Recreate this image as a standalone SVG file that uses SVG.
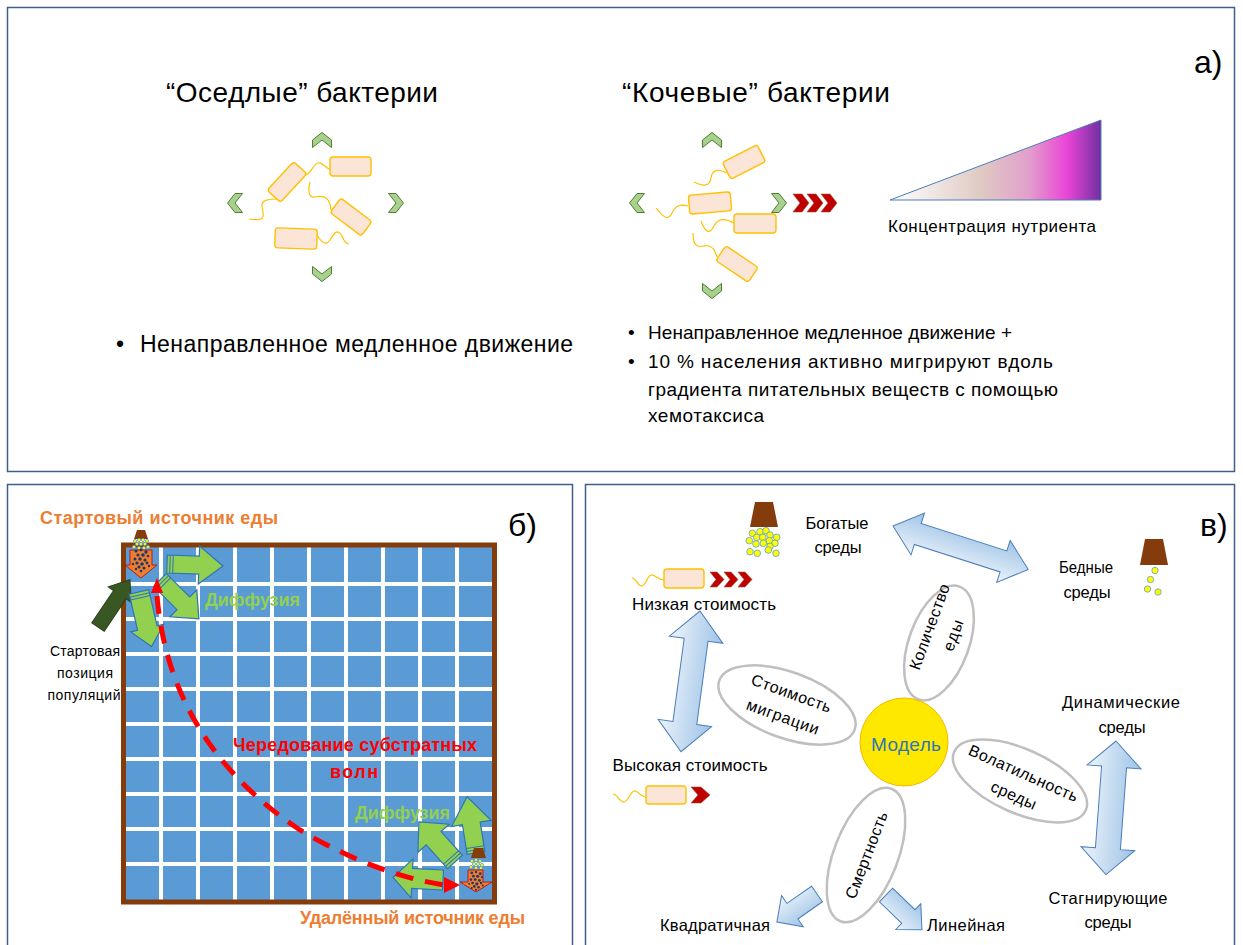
<svg xmlns="http://www.w3.org/2000/svg" xmlns:xlink="http://www.w3.org/1999/xlink" width="1243" height="945" viewBox="0 0 1243 945">
  <defs>
    <style>
      .panel { fill: #ffffff; stroke: #3e5f8a; stroke-width: 1.5; }
      .t { font-family: "Liberation Sans", Arial, sans-serif; fill: #000000; }
      .tb { font-family: "Liberation Sans", Arial, sans-serif; font-weight: bold; }
      .orange { fill: #ed7d31; }
      .diff { fill: #92d050; }
      .red { fill: #ff0000; }
      .bact { fill: #fbe5d6; stroke: #ffc000; stroke-width: 1.4; }
      .flag { fill: none; stroke: #ffc000; stroke-width: 1.2; }
      .gchev { fill: #a9d18e; stroke: #507e32; stroke-width: 1; }
      .rchev { fill: #c00000; stroke: #a05030; stroke-width: 0.6; }
      .garrow { fill: #92d050; stroke: #2e75b6; stroke-width: 1.2; stroke-linejoin: miter; }
      .stripe { stroke: #2e75b6; stroke-width: 1; fill: none; }
      .barrow { fill: url(#lightBlue); stroke: #4a7ebb; stroke-width: 1; }
      .petal { fill: #ffffff; stroke: #bfbfbf; stroke-width: 2.5; }
      .food { fill: #843c0c; }
      .dot { fill: #ffff00; stroke: #5b9bd5; stroke-width: 0.8; }
      .speck { fill: #203864; }
    </style>
    <linearGradient id="nutrient" x1="890" y1="0" x2="1101" y2="0" gradientUnits="userSpaceOnUse">
      <stop offset="0" stop-color="#ffffff"/>
      <stop offset="0.43" stop-color="#dfcac3"/>
      <stop offset="0.66" stop-color="#e29fcb"/>
      <stop offset="0.84" stop-color="#ea44d6"/>
      <stop offset="1" stop-color="#7030a0"/>
    </linearGradient>
    <linearGradient id="lightBlue" x1="0" y1="0" x2="0" y2="1">
      <stop offset="0" stop-color="#9dc3e6"/>
      <stop offset="1" stop-color="#eef4fb"/>
    </linearGradient>
    <path id="chev" d="M-7.5,-9.5 L0,-9.5 L7.5,0 L0,9.5 L-7.5,9.5 L0,0 Z"/>
    <!-- cluster of bacteria drawn over a food-source arrow -->
    <g id="cluster" class="speck">
      <circle cx="-5" cy="-12" r="1.6"/><circle cx="0" cy="-13" r="1.4"/><circle cx="5" cy="-11" r="1.7"/>
      <circle cx="-3" cy="-8" r="1.6"/><circle cx="2" cy="-8" r="1.8"/><circle cx="7" cy="-7" r="1.3"/>
      <circle cx="-6" cy="-4" r="1.5"/><circle cx="-1" cy="-4" r="1.7"/><circle cx="4" cy="-3" r="1.6"/>
      <circle cx="-4" cy="0" r="1.6"/><circle cx="1" cy="1" r="1.8"/><circle cx="6" cy="0" r="1.4"/>
      <circle cx="-8" cy="1" r="1.2"/><circle cx="-2" cy="4" r="1.6"/><circle cx="3" cy="5" r="1.5"/>
      <circle cx="8" cy="3" r="1.2"/><circle cx="0" cy="8" r="1.3"/><circle cx="-5" cy="6" r="1.2"/>
    </g>
  </defs>

  <rect width="1243" height="945" fill="#ffffff"/>

  <!-- panel frames -->
  <rect class="panel" x="7.5" y="7.5" width="1227" height="464"/>
  <rect class="panel" x="7.5" y="484.5" width="565" height="475"/>
  <rect class="panel" x="585.5" y="484.5" width="649" height="475"/>

  <!-- ===== panel a ===== -->
  <g id="panel-a-labels">
    <text class="t" x="302" y="102" font-size="28" text-anchor="middle" textLength="272">“Оседлые” бактерии</text>
    <text class="t" x="756" y="102" font-size="28" text-anchor="middle" textLength="268">“Кочевые” бактерии</text>
    <text class="t" x="1194" y="73" font-size="32">а)</text>
  </g>

  <g id="sedentary-bacteria">
    <use href="#chev" class="gchev" transform="translate(322,140) rotate(-90)"/>
    <use href="#chev" class="gchev" transform="translate(235,203) rotate(180)"/>
    <use href="#chev" class="gchev" transform="translate(396,203)"/>
    <use href="#chev" class="gchev" transform="translate(322,274) rotate(90)"/>
    <path class="flag" d="M278,199 C268,199 261,200 262,207 C263,214 268,222 249,219"/>
    <path class="flag" d="M306,175 C312,172 314,163 318,163 C323,162 325,168 331,170"/>
    <path class="flag" d="M310,182 C308,190 308,198 315,197 C325,195 330,198 331,210"/>
    <path class="flag" d="M317,235 C322,243 326,246 330,240 C334,233 338,228 342,236 C344,241 346,244 349,244"/>
    <rect class="bact" x="-19.5" y="-9" width="39" height="18" rx="3" transform="translate(287,182) rotate(-47)"/>
    <rect class="bact" x="330" y="157" width="41" height="19" rx="3"/>
    <rect class="bact" x="-19.5" y="-9" width="39" height="18" rx="3" transform="translate(351,217) rotate(37)"/>
    <rect class="bact" x="-21" y="-10" width="42" height="20" rx="3" transform="translate(296,238.5) rotate(2)"/>
  </g>

  <g id="nomadic-bacteria">
    <use href="#chev" class="gchev" transform="translate(712,140) rotate(-90)"/>
    <use href="#chev" class="gchev" transform="translate(637,203) rotate(180)"/>
    <use href="#chev" class="gchev" transform="translate(779,203)"/>
    <use href="#chev" class="gchev" transform="translate(712,291) rotate(90)"/>
    <path class="rchev" d="M793,194 L802,194 L809,203 L802,212 L793,212 L800,203 Z"/>
    <path class="rchev" d="M807,194 L816,194 L823,203 L816,212 L807,212 L814,203 Z"/>
    <path class="rchev" d="M821,194 L830,194 L837,203 L830,212 L821,212 L828,203 Z"/>
    <path class="flag" d="M727,173 C718,168 712,170 711,178 C710,186 704,187 694,182"/>
    <path class="flag" d="M688,206 C680,204 676,205 672,213 C668,221 664,218 656,208"/>
    <path class="flag" d="M734,223 C725,218 718,218 714,226 C710,234 706,234 701,221"/>
    <path class="flag" d="M717,257 C715,250 712,244 704,246 C696,248 693,244 693,233"/>
    <rect class="bact" x="-19.5" y="-9.5" width="39" height="19" rx="3" transform="translate(744,162) rotate(-27)"/>
    <rect class="bact" x="-21" y="-9.5" width="42" height="19" rx="3" transform="translate(710,203) rotate(-5)"/>
    <rect class="bact" x="734" y="214" width="42" height="19" rx="3"/>
    <rect class="bact" x="-19.5" y="-9" width="39" height="18" rx="3" transform="translate(737,264) rotate(34)"/>
  </g>

  <g id="nutrient-gradient">
    <path d="M890,200 L1101,120 L1101,200 Z" fill="url(#nutrient)" stroke="#4a7ebb" stroke-width="1"/>
    <text class="t" x="992" y="232" font-size="17" text-anchor="middle" textLength="208">Концентрация нутриента</text>
  </g>

  <g id="panel-a-bullets">
    <text class="t" x="116" y="352" font-size="23">•</text>
    <text class="t" x="140" y="352" font-size="23" textLength="433">Ненаправленное медленное движение</text>
    <text class="t" x="628" y="339" font-size="19">•</text>
    <text class="t" x="648" y="339" font-size="19" textLength="364">Ненаправленное медленное движение +</text>
    <text class="t" x="628" y="368" font-size="19">•</text>
    <text class="t" x="648" y="368" font-size="19" textLength="405">10 % населения активно мигрируют вдоль</text>
    <text class="t" x="648" y="396" font-size="19" textLength="410">градиента питательных веществ с помощью</text>
    <text class="t" x="648" y="422" font-size="19" textLength="116">хемотаксиса</text>
  </g>

  <!-- ===== panel б ===== -->
  <g id="grid">
    <rect x="126" y="547" width="366" height="353" fill="#5b9bd5"/>
    <g stroke="#ffffff" stroke-width="4">
      <path d="M161,547 V900 M198,547 V900 M235,547 V900 M272,547 V900 M309,547 V900 M346,547 V900 M383,547 V900 M420,547 V900 M457,547 V900"/>
      <path d="M126,584 H492 M126,619 H492 M126,654 H492 M126,689 H492 M126,724 H492 M126,759 H492 M126,794 H492 M126,829 H492 M126,864 H492"/>
    </g>
    <rect x="123.5" y="545" width="371" height="357" fill="none" stroke="#843c0c" stroke-width="5"/>
  </g>

  <g id="panel-b-labels">
    <text class="tb orange" x="40" y="524" font-size="18" textLength="238">Стартовый источник еды</text>
    <text class="tb orange" x="300" y="924" font-size="18" textLength="225">Удалённый источник еды</text>
    <text class="tb red" x="355" y="751" font-size="18" text-anchor="middle" textLength="244">Чередование субстратных</text>
    <text class="tb red" x="354" y="778" font-size="18" text-anchor="middle" textLength="48">волн</text>
    <text class="t" x="85" y="656" font-size="14" text-anchor="middle" textLength="70">Стартовая</text>
    <text class="t" x="85" y="678" font-size="14" text-anchor="middle" textLength="56">позиция</text>
    <text class="t" x="84" y="700" font-size="14" text-anchor="middle" textLength="73">популяций</text>
    <text class="t" x="508" y="536" font-size="32">б)</text>
  </g>

  <g id="start-arrow">
    <path d="M0,-7.5 L39,-7.5 L39,-14 L57,0 L39,14 L39,7.5 L0,7.5 Z" fill="#385723" stroke="#2a4019" stroke-width="1" transform="translate(98,627) rotate(-56)"/>
  </g>

  <g id="diffusion-start">
    <g transform="translate(167,564) rotate(2)">
      <path class="garrow" d="M0,-9 L32,-9 L32,-19 L56,0 L32,19 L32,9 L0,9 Z"/>
      <path class="stripe" d="M3,-9 V9 M6,-9 V9"/>
    </g>
    <g transform="translate(160,580) rotate(45)">
      <path class="garrow" d="M0,-9 L33,-9 L33,-19 L55,0 L33,19 L33,9 L0,9 Z"/>
      <path class="stripe" d="M3,-9 V9 M6,-9 V9"/>
    </g>
    <g transform="translate(139,592) rotate(77)">
      <path class="garrow" d="M0,-10 L37,-10 L37,-17 L56,0 L37,17 L37,10 L0,10 Z"/>
      <path class="stripe" d="M3,-10 V10 M6,-10 V10"/>
    </g>
    <text class="tb diff" x="205" y="606" font-size="18" textLength="95">Диффузия</text>
  </g>

  <g id="diffusion-remote">
    <g transform="translate(476,853) rotate(-99)">
      <path class="garrow" d="M0,-9 L30,-9 L30,-20 L57,0 L30,20 L30,9 L0,9 Z"/>
      <path class="stripe" d="M3,-9 V9 M6,-9 V9"/>
    </g>
    <g transform="translate(455,862) rotate(-132)">
      <path class="garrow" d="M0,-10 L32,-10 L32,-21 L54,0 L32,21 L32,10 L0,10 Z"/>
      <path class="stripe" d="M3,-10 V10 M6,-10 V10"/>
    </g>
    <g transform="translate(443,880) rotate(183)">
      <path class="garrow" d="M0,-10 L31,-10 L31,-19.5 L50,0 L31,19.5 L31,10 L0,10 Z"/>
    </g>
    <text class="tb diff" x="355" y="819" font-size="18" textLength="95">Диффузия</text>
  </g>

  <g id="substrate-wave">
    <path d="M157,596 C165,690 210,770 300,830 C350,860 400,878 444,885" fill="none" stroke="#ff0000" stroke-width="5" stroke-dasharray="18 12"/>
    <path d="M151,593 L157,578 L163,593 Z" fill="#ff0000"/>
    <path d="M444,877 L460,885 L444,893 Z" fill="#ff0000"/>
  </g>

  <g id="food-start">
    <path class="food" d="M137,530 L145,530 L148,539 L134,539 Z"/>
    <g class="dot" stroke-width="0.5">
      <circle cx="135" cy="541" r="1.6"/><circle cx="139" cy="540" r="1.6"/><circle cx="143" cy="540" r="1.6"/><circle cx="147" cy="541" r="1.6"/>
      <circle cx="137" cy="544" r="1.6"/><circle cx="141" cy="544" r="1.6"/><circle cx="145" cy="544" r="1.6"/>
      <circle cx="134" cy="547" r="1.6"/><circle cx="139" cy="548" r="1.6"/><circle cx="144" cy="548" r="1.6"/><circle cx="148" cy="547" r="1.6"/>
    </g>
    <path d="M130,550 L152,550 L152,565 L157,565 L141,578 L125,565 L130,565 Z" fill="#ed7d31" stroke="#c00000" stroke-width="0.8"/>
    <use href="#cluster" transform="translate(141,563)"/>
  </g>

  <g id="food-remote">
    <path class="food" d="M474,848 L483,848 L486,858 L471,858 Z"/>
    <g class="dot" stroke-width="0.5">
      <circle cx="472" cy="861" r="1.6"/><circle cx="476" cy="860" r="1.6"/><circle cx="480" cy="861" r="1.6"/>
      <circle cx="474" cy="864" r="1.6"/><circle cx="478" cy="864" r="1.6"/><circle cx="482" cy="865" r="1.6"/>
      <circle cx="471" cy="867" r="1.6"/><circle cx="476" cy="868" r="1.6"/><circle cx="481" cy="868" r="1.6"/>
    </g>
    <path d="M468,870 L483,870 L483,882 L492,882 L476,892 L460,882 L468,882 Z" fill="#ed7d31" stroke="#c00000" stroke-width="0.8"/>
    <use href="#cluster" transform="translate(476,883) scale(0.85)"/>
  </g>

  <!-- ===== panel в ===== -->
  <text class="t" x="1200" y="536" font-size="32">в)</text>

  <g id="rich-food">
    <path class="food" d="M755,502 L773,502 L778,527 L750,527 Z"/>
    <g class="dot">
      <circle cx="752.3" cy="533.3" r="3.3"/><circle cx="760" cy="531.7" r="3.3"/><circle cx="766" cy="530.7" r="3.3"/>
      <circle cx="770" cy="535" r="3.3"/><circle cx="776.7" cy="537.3" r="3.3"/><circle cx="749.3" cy="540.7" r="3.3"/>
      <circle cx="756.7" cy="537.3" r="3.3"/><circle cx="762.7" cy="537.3" r="3.3"/><circle cx="769.3" cy="540.7" r="3.3"/>
      <circle cx="775" cy="543.3" r="3.3"/><circle cx="756" cy="544" r="3.3"/><circle cx="763.3" cy="543.3" r="3.3"/>
      <circle cx="770" cy="546.5" r="3.3"/><circle cx="750" cy="551.7" r="3.3"/><circle cx="757.3" cy="553.3" r="3.3"/>
      <circle cx="768.3" cy="550" r="3.3"/><circle cx="776" cy="553.3" r="3.3"/>
    </g>
    <text class="t" x="837" y="529" font-size="16.5" text-anchor="middle" textLength="63">Богатые</text>
    <text class="t" x="838" y="553" font-size="16.5" text-anchor="middle" textLength="47">среды</text>
  </g>

  <g id="poor-food">
    <path class="food" d="M1145,539 L1163,539 L1168,565 L1140,565 Z"/>
    <g class="dot">
      <circle cx="1155" cy="570.5" r="3.2"/><circle cx="1150.5" cy="579.5" r="3.2"/>
      <circle cx="1147.5" cy="589" r="3.2"/><circle cx="1158" cy="592" r="3.2"/>
    </g>
    <text class="t" x="1086" y="573" font-size="16.5" text-anchor="middle" textLength="54" lengthAdjust="spacingAndGlyphs">Бедные</text>
    <text class="t" x="1087" y="598" font-size="16.5" text-anchor="middle" textLength="47">среды</text>
  </g>

  <g id="low-cost">
    <path class="flag" d="M664,580 C657,580 655,574 651,575 C647,576 646,587 641,586 C637,585 636,578 632,578"/>
    <rect class="bact" x="664" y="569" width="40" height="19" rx="3"/>
    <path class="rchev" d="M710,572 L717,572 L724,579.5 L717,587 L710,587 L716,579.5 Z"/>
    <path class="rchev" d="M724,572 L731,572 L738,579.5 L731,587 L724,587 L730,579.5 Z"/>
    <path class="rchev" d="M738,572 L745,572 L752,579.5 L745,587 L738,587 L744,579.5 Z"/>
    <text class="t" x="704" y="610" font-size="17" text-anchor="middle" textLength="144">Низкая стоимость</text>
  </g>

  <g id="high-cost">
    <text class="t" x="690" y="771" font-size="17" text-anchor="middle" textLength="155">Высокая стоимость</text>
    <path class="flag" d="M646,797 C640,797 638,790 634,791 C630,792 628,803 623,802 C619,801 617,794 613,794"/>
    <rect class="bact" x="646" y="786" width="40" height="18" rx="3"/>
    <path class="rchev" d="M691,787 L701,787 L710,795 L701,803 L691,803 L698,795 Z"/>
  </g>

  <g id="connectors">
    <!-- rich ↔ poor -->
    <path class="barrow" d="M0,0 L26,-22 L26,-11 L116,-11 L116,-22 L142,0 L116,22 L116,11 L26,11 L26,22 Z" transform="translate(893,526) rotate(17.8)"/>
    <!-- low ↔ high migration cost -->
    <path class="barrow" d="M0,0 L29,-27 L29,-12 L113,-12 L113,-27 L142,0 L113,27 L113,12 L29,12 L29,27 Z" transform="translate(700,611) rotate(97.7)"/>
    <!-- dynamic ↔ stagnant -->
    <path class="barrow" d="M0,0 L26,-27 L26,-12.5 L108,-12.5 L108,-27 L134,0 L108,27 L108,12.5 L26,12.5 L26,27 Z" transform="translate(1116,741) rotate(94.3)"/>
    <!-- mortality branches -->
    <path class="barrow" d="M0,-9.5 L30,-9.5 L30,-19 L49,0 L30,19 L30,9.5 L0,9.5 Z" transform="translate(817,894) rotate(145)"/>
    <path class="barrow" d="M0,-9.5 L31,-9.5 L31,-18 L50,0 L31,18 L31,9.5 L0,9.5 Z" transform="translate(886,895) rotate(44)"/>
  </g>

  <g id="petal-migration-cost" transform="translate(787,705) rotate(20)">
    <ellipse class="petal" cx="0" cy="0" rx="72" ry="33"/>
    <text class="t" x="0" y="-7" font-size="16" text-anchor="middle" textLength="84">Стоимость</text>
    <text class="t" x="0" y="18" font-size="16" text-anchor="middle" textLength="76">миграции</text>
  </g>

  <g id="petal-food-amount" transform="translate(939,643) rotate(-70)">
    <ellipse class="petal" cx="0" cy="0" rx="60" ry="30"/>
    <text class="t" x="12" y="-9" font-size="16" text-anchor="middle" textLength="90">Количество</text>
    <text class="t" x="12" y="16" font-size="16" text-anchor="middle" textLength="32">еды</text>
  </g>

  <g id="petal-volatility" transform="translate(1020,781) rotate(24)">
    <ellipse class="petal" cx="0" cy="0" rx="72" ry="32"/>
    <text class="t" x="0" y="-3" font-size="16" text-anchor="middle" textLength="118">Волатильность</text>
    <text class="t" x="0" y="21" font-size="16" text-anchor="middle" textLength="48">среды</text>
  </g>

  <g id="petal-mortality" transform="translate(866,855) rotate(-69)">
    <ellipse class="petal" cx="0" cy="0" rx="71" ry="32"/>
    <text class="t" x="0" y="6" font-size="16" text-anchor="middle" textLength="92">Смертность</text>
  </g>

  <g id="model">
    <circle cx="904" cy="742" r="44" fill="#ffe800" stroke="#f2b800" stroke-width="1"/>
    <text x="906" y="751" font-family="Liberation Sans, Arial, sans-serif" font-size="19" fill="#2e75b6" text-anchor="middle" textLength="70">Модель</text>
  </g>

  <g id="panel-c-labels">
    <text class="t" x="1121" y="708" font-size="16.5" text-anchor="middle" textLength="118">Динамические</text>
    <text class="t" x="1122" y="733" font-size="16.5" text-anchor="middle" textLength="47">среды</text>
    <text class="t" x="1108" y="904" font-size="16.5" text-anchor="middle" textLength="119">Стагнирующие</text>
    <text class="t" x="1108" y="928" font-size="16.5" text-anchor="middle" textLength="47">среды</text>
    <text class="t" x="715" y="931" font-size="16.5" text-anchor="middle" textLength="110">Квадратичная</text>
    <text class="t" x="966" y="931" font-size="16.5" text-anchor="middle" textLength="78">Линейная</text>
  </g>
</svg>
